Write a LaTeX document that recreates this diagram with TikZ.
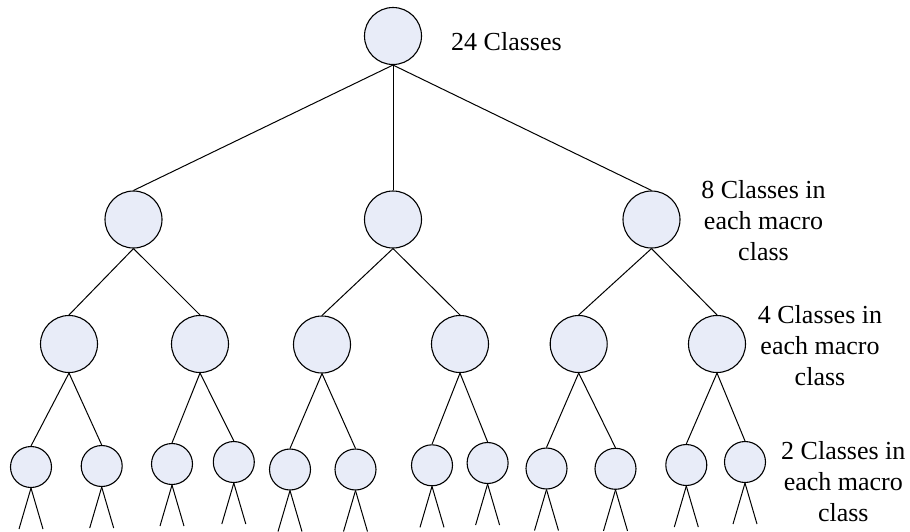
\documentclass[tikz,border=0pt]{standalone}
\usepackage{fontspec}
\setmainfont{Liberation Serif}
\definecolor{nodefill}{RGB}{232,236,248}
\begin{document}
\begin{tikzpicture}[x=1pt,y=-1pt,
  big/.style={circle,draw=black,fill=nodefill,line width=1.1pt,minimum size=57pt,inner sep=0pt},
  leaf/.style={circle,draw=black,fill=nodefill,line width=1.1pt,minimum size=41pt,inner sep=0pt},
  edge/.style={line width=1pt,black},
  lbl/.style={inner sep=0pt,align=center,font=\fontsize{26}{31}\selectfont}]
\useasboundingbox (0,0) rectangle (910,531);
\node[big] (r) at (393,36) {};
\node[big] (a1) at (133.5,219.5) {};
\node[big] (a2) at (393,219.5) {};
\node[big] (a3) at (651.5,219.5) {};
\node[big] (b1) at (69,344) {};
\node[big] (b2) at (200,344) {};
\node[big] (b3) at (322,344.5) {};
\node[big] (b4) at (460,344) {};
\node[big] (b5) at (578.7,344) {};
\node[big] (b6) at (717,344) {};
\node[leaf] (c1) at (31,467) {};
\node[leaf] (c2) at (101.7,466) {};
\node[leaf] (c3) at (172,464) {};
\node[leaf] (c4) at (233.8,462) {};
\node[leaf] (c5) at (290,469.5) {};
\node[leaf] (c6) at (355.5,469.5) {};
\node[leaf] (c7) at (432,465.3) {};
\node[leaf] (c8) at (487.6,463) {};
\node[leaf] (c9) at (546.5,468.5) {};
\node[leaf] (c10) at (615.5,468.8) {};
\node[leaf] (c11) at (686.3,465) {};
\node[leaf] (c12) at (745,462) {};
\foreach \p/\c in {r/a1,r/a2,r/a3,a1/b1,a1/b2,a2/b3,a2/b4,a3/b5,a3/b6,
  b1/c1,b1/c2,b2/c3,b2/c4,b3/c5,b3/c6,b4/c7,b4/c8,b5/c9,b5/c10,b6/c11,b6/c12}
  \draw[edge] (\p.south) -- (\c.north);
\foreach \c in {c1,c2,c3,c4,c5,c6,c7,c8,c9,c10,c11,c12}{
  \draw[edge] (\c.south) -- ++(-12,41);
  \draw[edge] (\c.south) -- ++(12,41);
}
\node[lbl,anchor=base west] (t0) at (451,50) {24 Classes};
\node[lbl,anchor=base] (t1) at (763.5,260) {8 Classes in\\each macro\\class};
\node[lbl,anchor=base] (t2) at (820,385) {4 Classes in\\each macro\\class};
\node[lbl,anchor=base] (t3) at (843.3,521) {2 Classes in\\each macro\\class};
\end{tikzpicture}
\end{document}
